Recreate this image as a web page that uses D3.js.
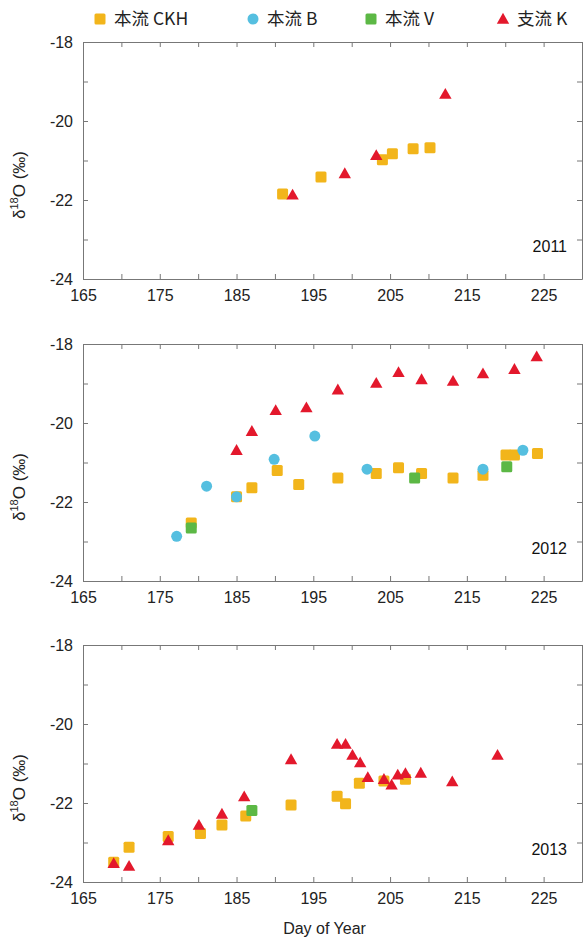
<!DOCTYPE html>
<html>
<head>
<meta charset="utf-8">
<script src="https://cdn.jsdelivr.net/npm/d3@7"></script>
<style>
  html, body { margin: 0; padding: 0; background: #fff; }
  svg { display: block; }
  .axis text { font-family: "Liberation Sans", Arial, sans-serif; font-size: 16px; fill: #222; }
  .axis path, .axis line { stroke: #777; stroke-width: 1; }
</style>
</head>
<body>
<script>
// Series labels and colours
const seriesNames = ["本流 CKH", "本流 B", "本流 V", "支流 K"];
const seriesColors = ["#f2b51b", "#55bfe0", "#5cb845", "#e3182c"];

// Panel years
const years = [2011, 2012, 2013];

// Axis ticks
const xTicks = [165, 170, 175, 180, 185, 190, 195, 200, 205, 210, 215, 220, 225, 230];
const yTicks = [-24, -23, -22, -21, -20, -19, -18];

// 2011: [day of year, δ18O ‰]
const ckh2011 = [[191, -21.85], [196, -21.42], [204, -20.98], [205.3, -20.83], [208, -20.7], [210.2, -20.68]];
const b2011 = [];
const v2011 = [];
const k2011 = [[192.3, -21.87], [199.1, -21.33], [203.2, -20.87], [212.2, -19.32]];

// 2012
const ckh2012 = [[179.1, -22.53], [185, -21.87], [187, -21.64], [190.3, -21.2], [193.1, -21.56], [198.2, -21.39],
  [203.2, -21.28], [206.1, -21.13], [209.1, -21.28], [213.2, -21.39], [217.1, -21.32], [220.1, -20.81],
  [221.2, -20.81], [224.2, -20.77]];
const b2012 = [[177.2, -22.87], [181.1, -21.6], [185, -21.87], [189.9, -20.92], [195.2, -20.33], [202, -21.17],
  [217.1, -21.17], [222.3, -20.69]];
const v2012 = [[179.1, -22.66], [208.2, -21.39], [220.2, -21.11]];
const k2012 = [[185, -20.69], [187, -20.21], [190.1, -19.68], [194.1, -19.61], [198.2, -19.16], [203.2, -18.99],
  [206.1, -18.72], [209.1, -18.9], [213.2, -18.94], [217.1, -18.75], [221.2, -18.64], [224.1, -18.32]];

// 2013
const ckh2013 = [[169, -23.5], [171, -23.12], [176.1, -22.85], [180.3, -22.77], [183.1, -22.56], [186.2, -22.33],
  [192.1, -22.05], [198.1, -21.83], [199.2, -22.02], [201, -21.5], [204.2, -21.44], [207, -21.4]];
const b2013 = [];
const v2013 = [[187, -22.19]];
const k2013 = [[169, -23.53], [171, -23.6], [176.1, -22.95], [180.1, -22.56], [183.1, -22.28], [186, -21.84],
  [192.1, -20.9], [198.1, -20.51], [199.2, -20.51], [200.1, -20.79], [201.1, -20.98], [202.1, -21.35],
  [204.2, -21.4], [205.2, -21.54], [206, -21.29], [207, -21.25], [209, -21.24], [213.1, -21.46], [219, -20.79]];

const panelData = [
  [ckh2011, b2011, v2011, k2011],
  [ckh2012, b2012, v2012, k2012],
  [ckh2013, b2013, v2013, k2013]
];

const W = 584, H = 945;
const left = 83, right = 582;
const panelTops = [42, 344, 645];
const panelH = 237;

const svg = d3.select("body").append("svg").attr("width", W).attr("height", H);

const x = d3.scaleLinear().domain([165, 230]).range([left, right]);

// Marker drawing per series index
function drawMarker(g, idx, cx, cy) {
  const c = seriesColors[idx];
  if (idx === 0 || idx === 2) {
    g.append("rect").attr("x", cx - 5.5).attr("y", cy - 5.5).attr("width", 11).attr("height", 11)
      .attr("rx", 1.5).attr("fill", c);
  } else if (idx === 1) {
    g.append("circle").attr("cx", cx).attr("cy", cy).attr("r", 5.5).attr("fill", c);
  } else {
    const s = 6.2;
    g.append("path")
      .attr("d", `M${cx},${cy - s}L${cx + s},${cy + s * 0.75}L${cx - s},${cy + s * 0.75}Z`)
      .attr("fill", c);
  }
}

years.forEach((yr, p) => {
  const top = panelTops[p];
  const y = d3.scaleLinear().domain([-24, -18]).range([top + panelH, top]);
  const g = svg.append("g");

  // Frame with inward ticks on all four sides
  g.append("g").attr("class", "axis").attr("transform", `translate(0,${top + panelH})`)
    .call(d3.axisBottom(x).tickValues(xTicks).tickSize(-5).tickPadding(11).tickSizeOuter(0)
      .tickFormat(d => (d % 10 === 5 ? String(d) : "")));
  g.append("g").attr("class", "axis").attr("transform", `translate(0,${top})`)
    .call(d3.axisTop(x).tickValues(xTicks).tickSize(-5).tickSizeOuter(0).tickFormat(""));
  g.append("g").attr("class", "axis").attr("transform", `translate(${left},0)`)
    .call(d3.axisLeft(y).tickValues(yTicks).tickSize(-5).tickPadding(10).tickSizeOuter(0)
      .tickFormat(d => (d % 2 === 0 ? String(d) : "")));
  g.append("g").attr("class", "axis").attr("transform", `translate(${right},0)`)
    .call(d3.axisRight(y).tickValues(yTicks).tickSize(-5).tickSizeOuter(0).tickFormat(""));

  // Y axis title
  const t = g.append("text")
    .attr("transform", `translate(25,${top + 143}) rotate(-90)`)
    .attr("text-anchor", "middle")
    .style("font-family", "'Liberation Sans', Arial, sans-serif")
    .style("font-size", "17px").attr("fill", "#222");
  t.append("tspan").text("δ");
  t.append("tspan").attr("dy", -7).style("font-size", "11px").text("18");
  t.append("tspan").attr("dy", 7).text("O (‰)");

  // Year label
  g.append("text").attr("x", 567).attr("y", top + 210)
    .attr("text-anchor", "end")
    .style("font-family", "'Liberation Sans', Arial, sans-serif")
    .style("font-size", "16px").attr("fill", "#111").text(yr);

  // Points
  const mg = g.append("g");
  panelData[p].forEach((series, idx) => {
    series.forEach(([d, v]) => drawMarker(mg, idx, x(d), y(v)));
  });
});

// X axis title
svg.append("text").attr("x", (left + right) / 2 - 8).attr("y", 934)
  .attr("text-anchor", "middle")
  .style("font-family", "'Liberation Sans', Arial, sans-serif")
  .style("font-size", "16px").attr("fill", "#222").text("Day of Year");

// Legend
const legendX = [100, 253, 371, 503];
const lg = svg.append("g");
seriesNames.forEach((name, i) => {
  drawMarker(lg, i, legendX[i], 19);
  lg.append("text").attr("x", legendX[i] + 14).attr("y", 25)
    .style("font-family", "'Noto Sans CJK SC', 'Noto Sans', sans-serif")
    .style("font-size", "17.5px").attr("fill", "#222").text(name);
});
</script>
</body>
</html>
